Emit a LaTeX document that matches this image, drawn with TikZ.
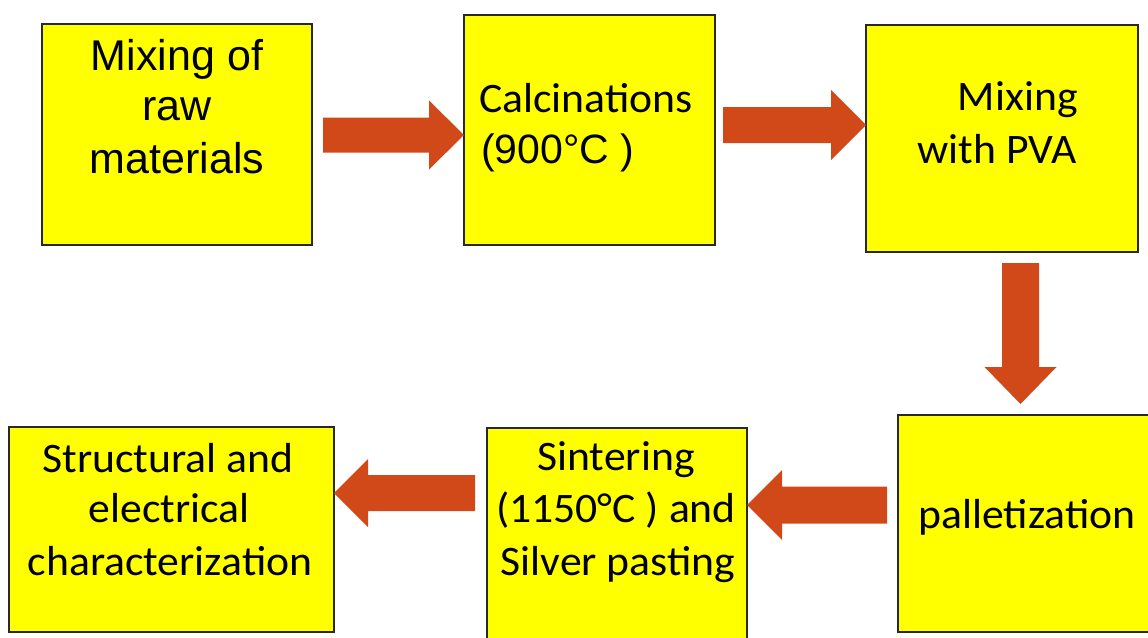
\documentclass[tikz,border=0pt]{standalone}
\usepackage{fontspec}
\setmainfont[FakeStretch=1.04]{Carlito}
\newfontfamily\arialfont{Liberation Sans}
\usetikzlibrary{calc,fit}

\definecolor{boxyellow}{RGB}{255,255,0}
\definecolor{arroworange}{RGB}{209,73,25}
\definecolor{boxline}{RGB}{40,40,40}

\tikzset{
  stepbox/.style={draw=boxline, line width=1.5pt, fill=boxyellow, inner sep=0pt, outer sep=0pt},
  txt/.style={anchor=base, inner sep=0pt, font=\fontsize{42}{52}\selectfont},
  atxt/.style={txt, font=\fontsize{41}{52}\selectfont\arialfont},
  bigatxt/.style={txt, font=\fontsize{43}{52}\selectfont\arialfont},
}

% block arrow: #1 tail, #2 tip, #3 shaft half-width, #4 head half-width, #5 head length
\newcommand\blockarrow[5]{%
  \coordinate (ba-h) at ($(#2)!#5!(#1)$);
  \fill[arroworange]
    ($(#1)!#3!90:(#2)$) -- ($(ba-h)!#3!90:(#2)$) -- ($(ba-h)!#4!90:(#2)$)
    -- (#2)
    -- ($(ba-h)!#4!-90:(#2)$) -- ($(ba-h)!#3!-90:(#2)$) -- ($(#1)!#3!-90:(#2)$)
    -- cycle;
}

\begin{document}
\begin{tikzpicture}[x=1pt,y=-1pt]
\clip (0,0) rectangle (1148,637);
\fill[white] (0,0) rectangle (1148,637);

% process steps
\node[stepbox, fit={(42,24) (312,245)}] (b1) {};
\node[stepbox, fit={(464,15) (715,245)}] (b2) {};
\node[stepbox, fit={(866,25) (1138,252)}] (b3) {};
\node[stepbox, fit={(898,415) (1152,632)}] (b4) {};
\node[stepbox, fit={(487,428) (747,642)}] (b5) {};
\node[stepbox, fit={(9,427) (334,632)}] (b6) {};

% labels
\node[bigatxt] (b1a) at (177,70) {Mixing of};
\node[bigatxt] (b1b) at (177,120) {raw};
\node[bigatxt] (b1c) at (177,173) {materials};

\node[txt, anchor=base west] (b2a) at (479,112) {Calcinations};
\node[atxt, anchor=base west] (b2b) at (481,163) {(900°C )};

\node[txt, anchor=base east] (b3a) at (1078,110) {Mixing};
\node[txt, anchor=base east] (b3b) at (1077,163) {with PVA};

\node[txt] (b4a) at (1027,528) {palletization};

\node[txt] (b5a) at (616,470) {Sintering};
\node[txt] (b5b) at (616,522) {(1150°C ) and};
\node[txt] (b5c) at (618,575) {Silver pasting};

\node[txt] (b6a) at (168,472) {Structural and};
\node[txt] (b6b) at (169,522) {electrical};
\node[txt] (b6c) at (170,575) {characterization};

% arrow ends
\coordinate (t1) at (323,135);   \coordinate (p1) at (t1 -| b2.west);
\coordinate (t2) at (723,125);   \coordinate (p2) at (t2 -| b3.west);
\coordinate (t3) at (1020.5,263); \coordinate (p3) at ($(t3 |- b4.north)+(0,-11)$);
\coordinate (t4) at (887,505);   \coordinate (p4) at (t4 -| b5.east);
\coordinate (t5) at (475,493);   \coordinate (p5) at (t5 -| b6.east);

\blockarrow{t1}{p1}{17.5pt}{34.5pt}{35pt}
\blockarrow{t2}{p2}{18pt}{35pt}{35pt}
\blockarrow{t3}{p3}{18.5pt}{36pt}{37pt}
\blockarrow{t4}{p4}{18.5pt}{35pt}{35pt}
\blockarrow{t5}{p5}{18pt}{34pt}{34pt}
\end{tikzpicture}
\end{document}
